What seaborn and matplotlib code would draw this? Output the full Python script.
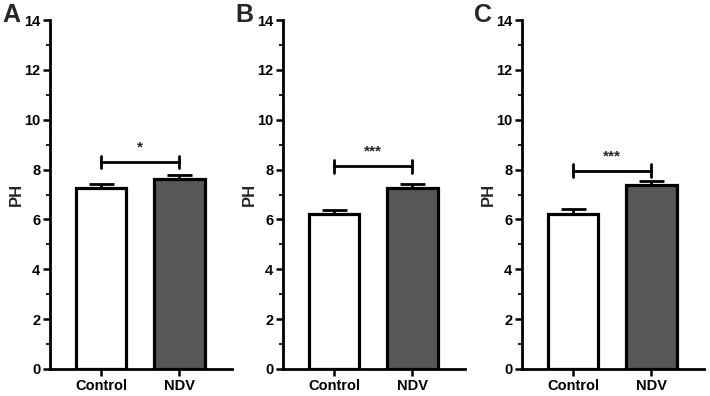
import matplotlib
matplotlib.use("Agg")
import matplotlib.pyplot as plt
import seaborn as sns
import pandas as pd
from matplotlib.ticker import MultipleLocator

sns.set_theme(style="ticks")
plt.rcParams['font.family'] = ['Liberation Sans', 'DejaVu Sans']
plt.rcParams['font.weight'] = 'bold'
plt.rcParams['axes.labelweight'] = 'bold'

groups = ["Control", "NDV"]
panel_labels = ["A", "B", "C"]
means_A = [7.28, 7.61]
means_B = [6.21, 7.27]
means_C = [6.21, 7.39]
sem_A = [0.13, 0.19]
sem_B = [0.16, 0.15]
sem_C = [0.20, 0.16]
bracket_y = [8.30, 8.13, 7.96]
sig_text = ["*", "***", "***"]
y_ticks = [0, 2, 4, 6, 8, 10, 12, 14]

means = [means_A, means_B, means_C]
sems = [sem_A, sem_B, sem_C]
colors = ["#ffffff", "#575757"]

fig = plt.figure(figsize=(7.1, 3.96), dpi=100)
lefts = [50/710, 283/710, 522/710]
bottom = 1 - 369/396
height = 349/396
width = 182/710

for i in range(3):
    ax = fig.add_axes([lefts[i], bottom, width, height])
    df = pd.DataFrame({"group": groups, "PH": means[i]})
    sns.barplot(data=df, x="group", y="PH", hue="group", palette=colors,
                edgecolor="black", linewidth=2.3, width=0.64, errorbar=None,
                legend=False, ax=ax, zorder=2)
    ax.errorbar([0, 1], means[i], yerr=[[0, 0], sems[i]], fmt="none",
                ecolor="black", elinewidth=2.0, capsize=9, capthick=2.0, zorder=1)
    # significance bracket
    by = bracket_y[i]
    ax.plot([0, 1], [by, by], color="black", lw=2.0, clip_on=False)
    ax.plot([0, 0], [by - 0.25, by + 0.25], color="black", lw=2.0)
    ax.plot([1, 1], [by - 0.25, by + 0.25], color="black", lw=2.0)
    ax.text(0.5, by + 0.3, sig_text[i], ha="center", va="bottom",
            fontsize=11, fontweight="bold")
    ax.set_ylim(0, 14)
    ax.set_xlim(-0.65, 1.67)
    ax.set_yticks(y_ticks)
    ax.yaxis.set_minor_locator(MultipleLocator(1))
    ax.set_xlabel("")
    ax.set_ylabel("PH", fontsize=12, fontweight="heavy")
    ax.yaxis.set_label_coords(-0.145, 0.5)
    for s in ["top", "right"]:
        ax.spines[s].set_visible(False)
    for s in ["left", "bottom"]:
        ax.spines[s].set_linewidth(2.0)
        ax.spines[s].set_color("black")
    ax.tick_params(axis="both", which="major", length=5, width=1.8,
                   labelsize=10.5, colors="black", direction="out", pad=2)
    ax.tick_params(axis="y", which="minor", length=3, width=1.5, direction="out")
    for lab in ax.get_xticklabels() + ax.get_yticklabels():
        lab.set_fontweight("bold")
    fig.text(lefts[i] - 48/710, 1 - 3/396, panel_labels[i], fontsize=18,
             fontweight="bold", ha="left", va="top")

fig.savefig("out.png", dpi=100)
